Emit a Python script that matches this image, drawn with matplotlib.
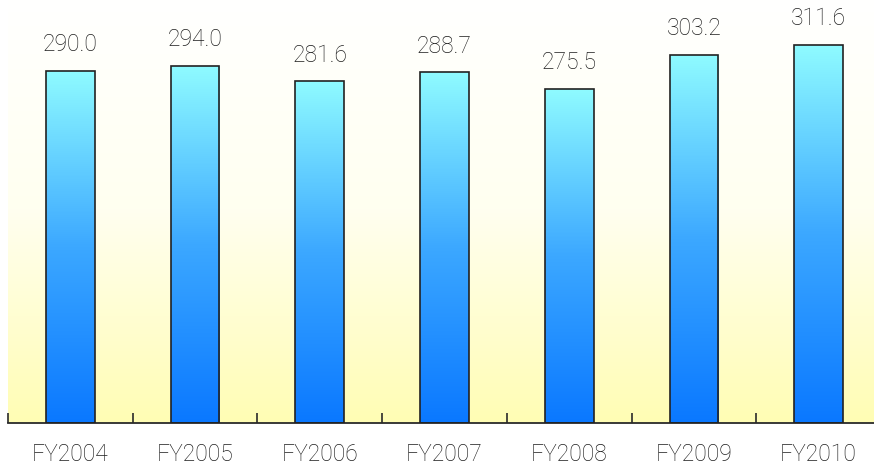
import numpy as np
import matplotlib
matplotlib.use("Agg")
import matplotlib.pyplot as plt
from matplotlib.colors import LinearSegmentedColormap

plt.rcParams['font.family'] = ['Roboto', 'DejaVu Sans']
plt.rcParams['font.weight'] = 'light'

categories = ["FY2004", "FY2005", "FY2006", "FY2007", "FY2008", "FY2009", "FY2010"]
values = [290.0, 294.0, 281.6, 288.7, 275.5, 303.2, 311.6]

W, H = 874, 467
fig = plt.figure(figsize=(W / 100, H / 100), dpi=100)
fig.patch.set_facecolor("white")

left_px, right_px, axis_px, top_px = 8, 881, 423.3, -2
ax = fig.add_axes([left_px / W, (H - axis_px) / H,
                   (right_px - left_px) / W, (axis_px - top_px) / H])

n = len(categories)
x = np.arange(n)
ax.set_xlim(-0.5, n - 0.5)
ax.set_ylim(0, 350)

# background wash: pale yellow at the base fading to white at the top
bg_cmap = LinearSegmentedColormap.from_list("bg", ["#FFFDB4", "#FFFFF0", "#FFFFFF"])
grad = np.linspace(0, 1, 256).reshape(-1, 1)
ax.imshow(grad, cmap=bg_cmap, origin="lower", aspect="auto",
          extent=(-0.5, n - 0.5, 0, 350), zorder=0)

# bars with a vertical blue-to-cyan gradient
bar_cmap = LinearSegmentedColormap.from_list("bar", ["#0A78FF", "#3CA8FF", "#8FFBFF"])
bars = ax.bar(x, values, width=0.39, facecolor="none", edgecolor="#222222",
              linewidth=1.2, zorder=3)
for b, v in zip(bars, values):
    x0 = b.get_x()
    im = ax.imshow(grad, cmap=bar_cmap, origin="lower", aspect="auto",
                   extent=(x0, x0 + b.get_width(), 0, v), zorder=2)
    im.set_clip_path(b)
    ax.text(b.get_x() + b.get_width() / 2, v + 12, f"{v:.1f}",
            ha="center", va="bottom", fontsize=16.5, color="#1e1e1e",
            fontweight="light")

ax.set_xlim(-0.5, n - 0.5)
ax.set_ylim(0, 350)

for s in ["top", "right", "left"]:
    ax.spines[s].set_visible(False)
ax.spines["bottom"].set_color("#2a2a2a")
ax.spines["bottom"].set_linewidth(1.3)

ax.set_yticks([])
ax.set_xticks(np.arange(-0.5, n, 1.0))
ax.set_xticklabels([])
ax.tick_params(axis="x", which="major", direction="in", length=7,
               width=1.2, color="#2a2a2a")
ax.set_xticks(x, minor=True)
ax.set_xticklabels(categories, minor=True, fontweight="light")
ax.tick_params(axis="x", which="minor", length=0, pad=14,
               labelsize=16.5, labelcolor="#1e1e1e")

fig.savefig("out.png", dpi=100)
